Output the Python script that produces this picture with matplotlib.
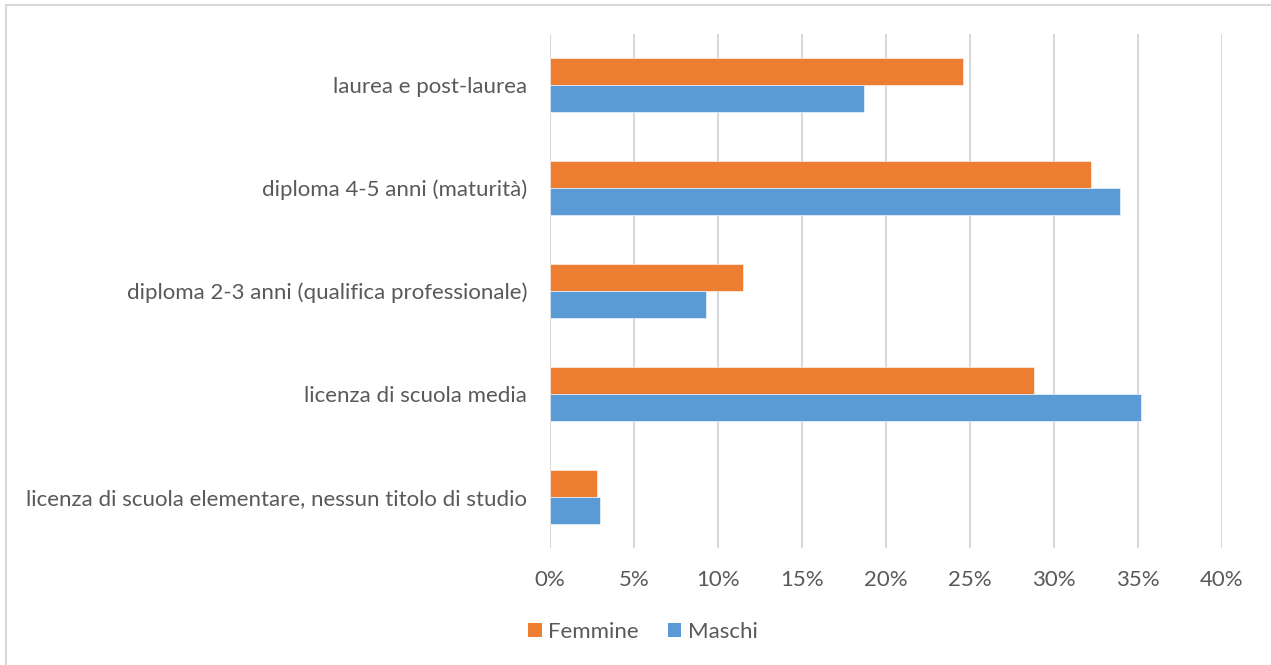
import matplotlib
matplotlib.use("Agg")
import matplotlib.pyplot as plt
from matplotlib.patches import Rectangle, Patch

categories = [
    "laurea e post-laurea",
    "diploma 4-5 anni (maturità)",
    "diploma 2-3 anni (qualifica professionale)",
    "licenza di scuola media",
    "licenza di scuola elementare, nessun titolo di studio",
]
femmine = [24.6, 32.2, 11.5, 28.8, 2.8]
maschi = [18.7, 33.9, 9.3, 35.2, 3.0]
xticks = [0, 5, 10, 15, 20, 25, 30, 35, 40]
xtick_labels = [f"{v}%" for v in xticks]

ORANGE = "#ED7D31"
BLUE = "#5B9BD5"
TEXT = "#595959"
GRID = "#D9D9D9"
FS = 16

plt.rcParams["font.family"] = ["Lato", "DejaVu Sans"]

W, H = 1271, 665
fig = plt.figure(figsize=(W / 100, H / 100), dpi=100)

ax = fig.add_axes([550 / W, 1 - 548 / H, (1222 - 550) / W, (548 - 34) / H])

n = len(categories)
bar_h = 0.263
pos = list(range(n))
ax.barh([p - bar_h / 2 for p in pos], femmine, height=bar_h, color=ORANGE,
        edgecolor="white", linewidth=0.4, label="Femmine", zorder=3)
ax.barh([p + bar_h / 2 for p in pos], maschi, height=bar_h, color=BLUE,
        edgecolor="white", linewidth=0.4, label="Maschi", zorder=3)

ax.set_ylim(n - 0.5, -0.5)
ax.set_xlim(0, 40)
ax.set_yticks(pos)
ax.set_yticklabels(categories, fontsize=FS, color=TEXT)
ax.set_xticks(xticks)
ax.set_xticklabels(xtick_labels, fontsize=FS, color=TEXT)
ax.tick_params(axis="both", length=0)
ax.tick_params(axis="y", pad=16.5)
ax.tick_params(axis="x", pad=16)
ax.grid(axis="x", color=GRID, linewidth=1.5, zorder=0)
for s in ax.spines.values():
    s.set_visible(False)

handles = [Patch(facecolor=ORANGE, label="Femmine"), Patch(facecolor=BLUE, label="Maschi")]
fig.legend(handles=handles, loc="center", bbox_to_anchor=(643 / W, 1 - 632 / H),
           ncol=2, frameon=False, fontsize=FS, labelcolor=TEXT,
           handlelength=0.6, handleheight=0.6, handletextpad=0.3, columnspacing=1.3)

# chart area border
fig.patches.append(Rectangle((6 / W, -0.5), 2.0, 1.5 - 5 / H,
                             transform=fig.transFigure, fill=False,
                             edgecolor=GRID, linewidth=1.5))

fig.savefig("out.png", dpi=100, facecolor="white")
